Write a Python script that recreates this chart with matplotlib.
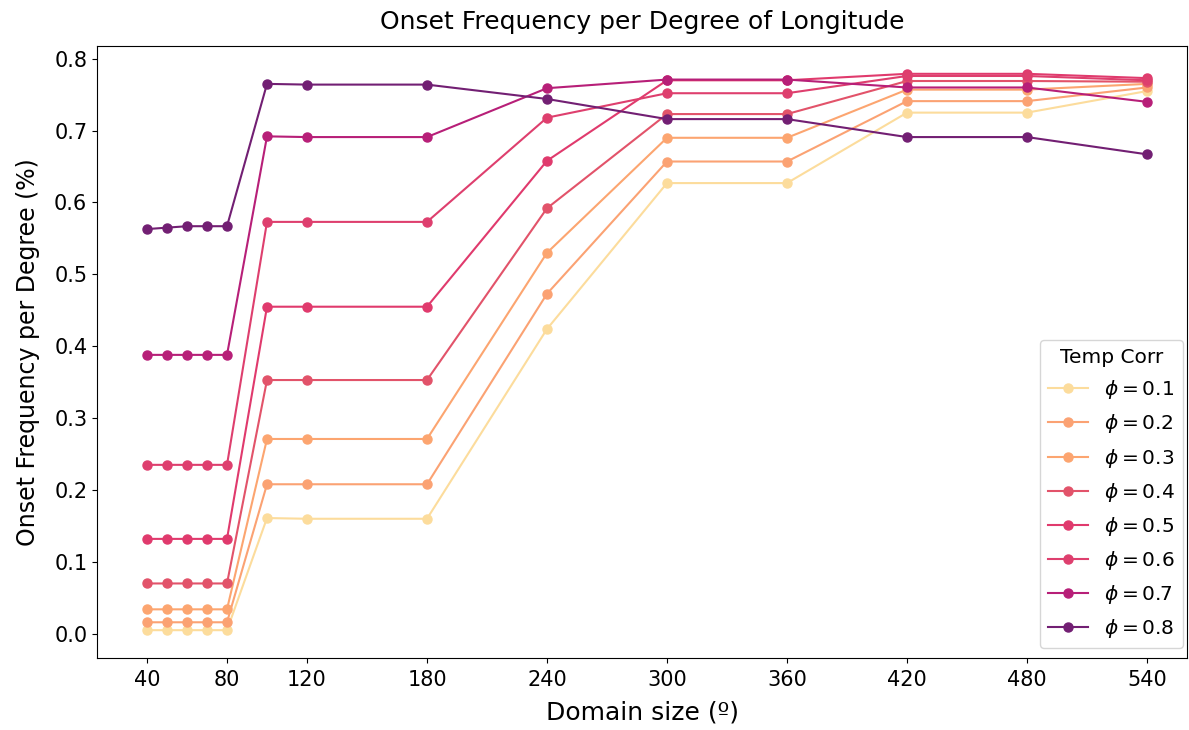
import matplotlib
matplotlib.use("Agg")
import matplotlib.pyplot as plt

# domain sizes (degrees of longitude)
domain = [40, 50, 60, 70, 80, 100, 120, 180, 240, 300, 360, 420, 480, 540]
xticks = [40, 80, 120, 180, 240, 300, 360, 420, 480, 540]

phis = [0.1, 0.2, 0.3, 0.4, 0.5, 0.6, 0.7, 0.8]

freq_01 = [0.005, 0.005, 0.005, 0.005, 0.005, 0.161, 0.160, 0.160, 0.424, 0.627, 0.627, 0.725, 0.725, 0.755]
freq_02 = [0.016, 0.016, 0.016, 0.016, 0.016, 0.208, 0.208, 0.208, 0.473, 0.657, 0.657, 0.741, 0.741, 0.760]
freq_03 = [0.034, 0.034, 0.034, 0.034, 0.034, 0.271, 0.271, 0.271, 0.530, 0.690, 0.690, 0.757, 0.757, 0.765]
freq_04 = [0.070, 0.070, 0.070, 0.070, 0.070, 0.353, 0.353, 0.353, 0.592, 0.723, 0.723, 0.769, 0.769, 0.768]
freq_05 = [0.132, 0.132, 0.132, 0.132, 0.132, 0.455, 0.455, 0.455, 0.658, 0.770, 0.770, 0.779, 0.779, 0.773]
freq_06 = [0.235, 0.235, 0.235, 0.235, 0.235, 0.573, 0.573, 0.573, 0.718, 0.752, 0.752, 0.776, 0.776, 0.770]
freq_07 = [0.388, 0.388, 0.388, 0.388, 0.388, 0.692, 0.691, 0.691, 0.759, 0.771, 0.771, 0.760, 0.760, 0.740]
freq_08 = [0.563, 0.565, 0.567, 0.567, 0.567, 0.765, 0.764, 0.764, 0.744, 0.716, 0.716, 0.691, 0.691, 0.667]

series = [freq_01, freq_02, freq_03, freq_04, freq_05, freq_06, freq_07, freq_08]
colors = ['#fcdc9c', '#fba273', '#fca570', '#e2536a', '#e03a6d', '#de3f6e', '#b71f78', '#721f73']

fig = plt.figure(figsize=(11.89, 7.30), dpi=100)
ax = fig.add_axes([97 / 1189, 72 / 730, 1090 / 1189, 612 / 730])

for phi, vals, c in zip(phis, series, colors):
    ax.plot(domain, vals, marker='o', markersize=6.5, linewidth=1.5, color=c,
            label=r'$\phi = %.1f$' % phi)

ax.set_xlim(15, 560)
ax.set_xticks(xticks)
ax.tick_params(labelsize=15)
ax.tick_params(axis='x', pad=5)
ax.set_title('Onset Frequency per Degree of Longitude', fontsize=18, pad=12)
ax.set_xlabel('Domain size (º)', fontsize=18, labelpad=8)
ax.set_ylabel('Onset Frequency per Degree (%)', fontsize=17, labelpad=10)

ax.legend(title='Temp Corr', fontsize=14.5, title_fontsize=14.5, loc='lower right',
          bbox_to_anchor=(1183 / 1189, 82 / 730), bbox_transform=fig.transFigure,
          borderaxespad=0, labelspacing=0.55)

fig.savefig('out.png', dpi=100)
